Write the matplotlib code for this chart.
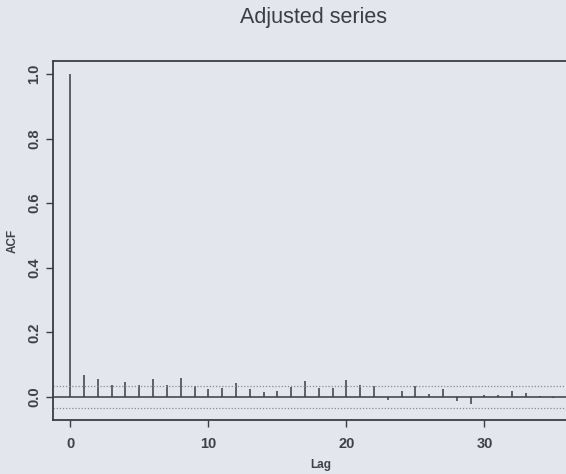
import numpy as np
import matplotlib.pyplot as plt

# autocorrelations, lag 0..35
lags = np.arange(0, 36)
acf = [1.0, 0.067, 0.056, 0.038, 0.046, 0.038, 0.056, 0.038, 0.058, 0.034,
       0.026, 0.028, 0.044, 0.024, 0.015, 0.020, 0.031, 0.051, 0.028, 0.028,
       0.054, 0.036, 0.034, -0.008, 0.020, 0.034, 0.010, 0.026, -0.012, -0.020,
       0.005, 0.007, 0.018, 0.013, 0.003, -0.004]
conf = 0.035
x_ticks = [0, 10, 20, 30]
y_ticks = [0.0, 0.2, 0.4, 0.6, 0.8, 1.0]

paper = '#e4e6ee'
ink = '#3c3c44'
plt.rcParams['font.family'] = ['Liberation Sans', 'DejaVu Sans']

W, H = 566, 474
fig = plt.figure(figsize=(W / 100, H / 100), dpi=100, facecolor=paper)
# right frame of the plot is cut off in the scan
ax = fig.add_axes([53 / W, 54 / H, 535 / W, 359 / H], facecolor=paper)

ax.vlines(lags, 0, acf, color=ink, lw=1.1)
ax.axhline(0, color=ink, lw=1.1)
ax.axhline(conf, color='#8a8a92', lw=0.9, ls=(0, (1, 1.5)))
ax.axhline(-conf, color='#8a8a92', lw=0.9, ls=(0, (1, 1.5)))

ax.set_xlim(-1.25, 37.5)
ax.set_ylim(-0.071, 1.04)
ax.set_xticks(x_ticks)
ax.set_yticks(y_ticks)
ax.set_yticklabels([f'{v:.1f}' for v in y_ticks], rotation=90, va='center')
ax.tick_params(colors=ink, labelcolor='#40404a', length=5, width=1, labelsize=10.5)
ax.tick_params(axis='x', pad=7)
for lab in ax.get_xticklabels() + ax.get_yticklabels():
    lab.set_fontweight('bold')
for s in ax.spines.values():
    s.set_color(ink)
    s.set_linewidth(1.3)

ax.set_xlabel('Lag', fontsize=8.5, color='#40404a', labelpad=6, fontweight='bold')
ax.set_ylabel('ACF', fontsize=8.5, color='#40404a', labelpad=6, fontweight='bold')
fig.text(313 / W, 1 - 18 / H, 'Adjusted series', ha='center', va='center',
         fontsize=15.5, color='#3c3c44')

fig.savefig('out.png', dpi=100, facecolor=paper)
